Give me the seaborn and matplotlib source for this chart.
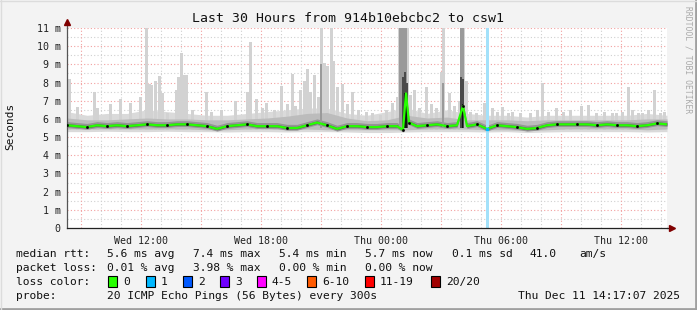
import numpy as np
import pandas as pd
import matplotlib
matplotlib.use("Agg")
import matplotlib.pyplot as plt
import seaborn as sns
from matplotlib.lines import Line2D
from matplotlib.patches import Rectangle

# ---------------- data (hours since start, Wed 08:17) ----------------
hours_base = [0, 1, 2, 3, 4, 5, 6, 7, 8, 9, 10, 11, 12, 13, 14, 15,
              16, 17, 18, 19, 20, 21, 22, 23, 24, 25, 26, 27, 28, 29, 30]
light_top = [6.4, 6.2, 6.3, 6.3, 6.5, 6.4, 6.3, 6.2, 6.2, 6.3, 6.4, 6.5, 6.6, 6.6, 6.3, 6.2,
             6.4, 6.6, 6.3, 6.5, 6.3, 6.2, 6.2, 6.1, 6.2, 6.2, 6.2, 6.2, 6.2, 6.3, 6.2]
light_low = [5.3, 5.3, 5.32, 5.3, 5.3, 5.32, 5.3, 5.3, 5.28, 5.3, 5.3, 5.28, 5.3, 5.3, 5.28, 5.25,
             5.25, 5.28, 5.3, 5.3, 5.3, 5.28, 5.3, 5.25, 5.28, 5.3, 5.3, 5.3, 5.3, 5.28, 5.3]
mid_top = [6.05, 5.95, 5.95, 6.0, 6.05, 6.0, 6.0, 5.95, 5.95, 6.0, 6.05, 6.15, 6.3, 6.35, 6.05, 5.9,
           5.95, 6.2, 6.05, 6.1, 5.95, 5.95, 5.95, 5.9, 5.95, 5.95, 5.95, 5.95, 5.95, 6.0, 6.0]
mid_low = [5.45, 5.45, 5.45, 5.45, 5.45, 5.45, 5.45, 5.4, 5.4, 5.45, 5.45, 5.4, 5.45, 5.4, 5.4, 5.4,
           5.4, 5.4, 5.45, 5.45, 5.45, 5.4, 5.4, 5.35, 5.4, 5.45, 5.45, 5.45, 5.45, 5.4, 5.45]

spike_t = [0.0, 0.1, 0.5, 1.35, 1.5, 2.15, 2.65, 3.15, 3.65, 3.95, 4.1, 4.2, 4.4, 4.6, 4.75,
           5.0, 5.45, 5.55, 5.7, 5.8, 5.95, 6.25, 6.95, 7.2, 7.7, 8.4, 9.0, 9.15, 9.45, 9.75,
           9.95, 10.35, 10.7, 11.0, 11.25, 11.4, 11.65, 11.85, 12.0, 12.15, 12.35, 12.55,
           12.7, 12.85, 13.0, 13.2, 13.3, 13.5, 13.75, 14.0, 14.25, 14.55, 14.95, 15.25,
           15.65, 15.95, 16.25, 16.5, 16.6, 16.7, 16.8, 16.9, 17.0, 17.15, 17.35, 17.6,
           17.95, 18.2, 18.45, 18.7, 18.8, 19.1, 19.35, 19.6, 19.7, 19.8, 19.95, 20.15,
           20.45, 20.85, 21.25, 21.5, 21.75, 22.05, 22.25, 22.65, 23.15, 23.5, 23.75,
           24.05, 24.45, 24.8, 25.15, 25.7, 26.05, 26.45, 26.85, 27.25, 27.45, 27.75,
           28.05, 28.25, 28.55, 28.75, 29.05, 29.35, 29.65, 29.85]
spike_v = [7.4, 8.2, 6.65, 7.5, 6.6, 6.8, 7.1, 6.9, 7.2, 11.0, 7.9, 7.85, 8.1, 8.35, 7.4,
           6.3, 7.6, 8.3, 9.6, 8.4, 8.4, 6.5, 7.5, 6.4, 6.5, 7.0, 7.5, 10.25, 7.1, 6.6,
           6.9, 6.5, 7.8, 6.8, 8.45, 6.7, 7.6, 8.1, 8.75, 7.5, 8.4, 7.2,
           11.0, 9.1, 8.9, 11.0, 9.2, 7.75, 7.9, 6.8, 7.5, 6.5, 6.4, 6.3,
           6.2, 6.5, 6.9, 7.2, 11.0, 11.0, 11.0, 11.0, 11.0, 7.3, 7.6, 6.6,
           7.75, 6.8, 6.6, 8.6, 11.0, 7.4, 6.7, 7.0, 11.0, 11.0, 8.1, 6.4,
           6.3, 6.9, 6.6, 6.4, 6.65, 6.3, 6.4, 6.3, 6.3, 6.5, 8.0,
           6.4, 6.6, 6.4, 6.5, 6.7, 6.75, 6.3, 6.4, 6.3, 6.3, 6.4,
           7.75, 6.5, 6.3, 6.3, 6.5, 7.6, 6.3, 6.4]

dark_t = [12.7, 16.65, 16.75, 16.85, 16.95, 18.8, 19.7, 19.8]
dark_v = [9.0, 11.0, 11.0, 11.0, 11.0, 8.0, 11.0, 11.0]
core_t = [16.8, 16.9, 16.98, 19.72, 19.8]
core_v = [8.3, 8.6, 8.0, 8.3, 8.2]
black_t = [16.88, 16.96, 19.78]
black_v = [7.4, 7.3, 6.8]

med_t = [0, 0.5, 1, 1.5, 2, 2.5, 3, 3.5, 4, 4.5, 5, 5.5, 6, 6.5, 7, 7.5, 8, 8.5, 9, 9.5,
         10, 10.5, 11, 11.5, 12, 12.5, 13, 13.5, 14, 14.5, 15, 15.5, 16, 16.5, 16.8, 16.95,
         17.1, 17.5, 18, 18.5, 19, 19.5, 19.8, 20.0, 20.5, 21, 21.5, 22, 22.5, 23, 23.5,
         24, 24.5, 25, 25.5, 26, 26.5, 27, 27.5, 28, 28.5, 29, 29.5, 30]
med_v = [5.65, 5.6, 5.55, 5.65, 5.6, 5.65, 5.6, 5.65, 5.7, 5.65, 5.65, 5.7, 5.7, 5.65, 5.6, 5.45,
         5.6, 5.65, 5.7, 5.6, 5.6, 5.6, 5.5, 5.5, 5.65, 5.8, 5.65, 5.45, 5.6, 5.6, 5.55, 5.55,
         5.6, 5.6, 5.4, 7.4, 5.8, 5.6, 5.65, 5.7, 5.6, 5.65, 6.7, 5.6, 5.7, 5.45, 5.65, 5.6,
         5.55, 5.45, 5.5, 5.65, 5.7, 5.7, 5.7, 5.7, 5.65, 5.7, 5.65, 5.65, 5.6, 5.65, 5.75, 5.7]

loss_t = [20.95, 21.08]

y_ticks = [0, 1, 2, 3, 4, 5, 6, 7, 8, 9, 10, 11]
y_labels = ['0', '1 m', '2 m', '3 m', '4 m', '5 m', '6 m', '7 m', '8 m', '9 m', '10 m', '11 m']
x_tick_hours = [3.72, 9.72, 15.72, 21.72, 27.72]
x_labels = ['Wed 12:00', 'Wed 18:00', 'Thu 00:00', 'Thu 06:00', 'Thu 12:00']
first_full_hour = 0.72

title = 'Last 30 Hours from 914b10ebcbc2 to csw1'
loss_names = ['0', '1', '2', '3', '4-5', '6-10', '11-19', '20/20']
loss_colors = ['#26ff00', '#00b8ff', '#0059ff', '#7000ff', '#ff00ff', '#ff5a00', '#ff0000', '#a10000']

# ---------------- drawing ----------------
sns.set_style("white")
plt.rcParams['font.family'] = ['DejaVu Sans Mono', 'DejaVu Sans']

W, H = 697, 310
fig = plt.figure(figsize=(W / 100, H / 100), dpi=100, facecolor='#f3f3f3')


def fx(x):
    return x / W


def fy(y):
    return 1 - y / H


L, R, T, B = 67, 667, 28, 228
ax = fig.add_axes([fx(L), fy(B), (R - L) / W, (B - T) / H])
ax.set_facecolor('white')
ax.set_xlim(0, 30)
ax.set_ylim(0, 11)

# grid
for v in np.arange(0.5, 11.01, 0.5):
    major = abs(v - round(v)) < 1e-6
    ax.axhline(v, color='#f2a0a0' if major else '#d0d0d0', lw=0.8,
               ls=(0, (1, 2)), zorder=0.5)
hrs = np.arange(first_full_hour, 30, 1.0)
for i, h in enumerate(hrs):
    ax.axvline(h, color='#f2a0a0' if i % 3 == 0 else '#d0d0d0', lw=0.8,
               ls=(0, (1, 2)), zorder=0.5)

# smoke
ax.fill_between(hours_base, light_low, light_top, color='#dadada', lw=0, zorder=1)
ax.bar(spike_t, np.array(spike_v) - 5.4, bottom=5.4, width=0.15, color='#d2d2d2',
       lw=0, zorder=1.1)
ax.fill_between(hours_base, mid_low, mid_top, color='#bcbcbc', lw=0, zorder=1.2)
mv = np.array(med_v)
ax.fill_between(med_t, mv - 0.12, mv + 0.2, color='#959595', lw=0, zorder=1.3)
ax.fill_between(med_t, mv - 0.05, mv + 0.09, color='#5f5f5f', lw=0, zorder=1.4)
ax.bar(dark_t, np.array(dark_v) - 5.5, bottom=5.5, width=0.1, color='#9a9a9a', lw=0, zorder=1.5)
ax.bar(core_t, np.array(core_v) - 5.5, bottom=5.5, width=0.09, color='#4a4a4a', lw=0, zorder=1.6)
ax.bar(black_t, np.array(black_v) - 5.5, bottom=5.5, width=0.08, color='#111111', lw=0, zorder=1.7)

# loss bar
ax.axvspan(loss_t[0], loss_t[1], color='#a3e1fa', lw=0, zorder=1.8)

# median
df = pd.DataFrame({'t': med_t, 'v': med_v})
sns.lineplot(data=df, x='t', y='v', ax=ax, color='#26ff00', lw=1.6, zorder=3)
ax.plot(med_t, med_v, ls='none', marker='s', ms=0.9, color='black', zorder=3.1,
        markevery=2)
ax.plot([21.0], [5.45], ls='none', marker='s', ms=1.8, color='#00b8ff', zorder=3.2)

# axes styling
for s in ['top', 'right']:
    ax.spines[s].set_visible(False)
ax.spines['left'].set_color('#555555')
ax.spines['bottom'].set_color('#222222')
ax.spines['left'].set_linewidth(0.9)
ax.spines['bottom'].set_linewidth(0.9)
ax.set_yticks(y_ticks)
ax.set_yticklabels(y_labels, fontsize=7.2, color='#222222')
ax.set_xticks(x_tick_hours)
ax.set_xticklabels(x_labels, fontsize=7.2, color='#222222')
ax.set_xticks(hrs[::3], minor=True)
ax.tick_params(axis='y', length=3, width=0.7, color='#555555', pad=3, direction='inout')
ax.tick_params(axis='x', which='major', length=2, width=0.7, color='#f08080', pad=4)
ax.tick_params(axis='x', which='minor', length=2, width=0.7, color='#f08080')
ax.set_xlabel('')
ax.set_ylabel('')

# axis extensions and arrows
ax.add_line(Line2D([0, 0], [1.0, 1.03], transform=ax.transAxes, color='#555555',
                   lw=0.9, clip_on=False))
ax.add_line(Line2D([1.0, 1.008], [0, 0], transform=ax.transAxes, color='#222222',
                   lw=0.9, clip_on=False))
ax.plot([0], [1.03], transform=ax.transAxes, marker='^', ms=4.5, color='#800000',
        clip_on=False, zorder=5)
ax.plot([1.008], [0], transform=ax.transAxes, marker='>', ms=4.5, color='#800000',
        clip_on=False, zorder=5)

# texts
fig.text(fx(348.5), fy(18), title, ha='center', va='center', fontsize=9.5, color='#111111')
fig.text(fx(10), fy(126), 'Seconds', rotation=90, ha='center', va='center', fontsize=8,
         color='#111111')
fig.text(fx(688), fy(60), 'RRDTOOL / TOBI OETIKER', rotation=270, ha='center', va='center',
         fontsize=5.8, color='#aaaaaa')

fs = 8.1
rows = [
    (254, [(16, 'median rtt:'), (107, '5.6 ms avg'), (193, '7.4 ms max'), (279, '5.4 ms min'),
           (365, '5.7 ms now'), (452, '0.1 ms sd'), (530, '41.0'), (579, 'am/s')]),
    (268, [(16, 'packet loss:'), (107, '0.01 % avg'), (193, '3.98 % max'),
           (279, '0.00 % min'), (365, '0.00 % now')]),
    (296, [(16, 'probe:'), (107, '20 ICMP Echo Pings (56 Bytes) every 300s')]),
]
for y, items in rows:
    for x, s in items:
        fig.text(fx(x), fy(y), s, ha='left', va='center', fontsize=fs, color='#111111')
fig.text(fx(680), fy(296), 'Thu Dec 11 14:17:07 2025', ha='right', va='center', fontsize=fs,
         color='#111111')

fig.text(fx(16), fy(282), 'loss color:', ha='left', va='center', fontsize=fs, color='#111111')
box_x = [108, 146, 183, 220, 257, 307, 365, 431]
for bx, name, col in zip(box_x, loss_names, loss_colors):
    fig.add_artist(Rectangle((fx(bx), fy(287)), 9 / W, 11 / H, transform=fig.transFigure,
                             facecolor=col, edgecolor='black', lw=0.8))
    fig.text(fx(bx + 15), fy(282), name, ha='left', va='center', fontsize=fs, color='#111111')

# frame
fig.add_artist(Line2D([fx(695.5), fx(695.5)], [0, 1], transform=fig.transFigure,
                      color='#a0a0a0', lw=2))
fig.add_artist(Line2D([0, 1], [fy(308.5), fy(308.5)], transform=fig.transFigure,
                      color='#a0a0a0', lw=2))
fig.add_artist(Line2D([fx(0.5), fx(0.5)], [0, 1], transform=fig.transFigure,
                      color='#dcdcdc', lw=1))
fig.add_artist(Line2D([0, 1], [fy(0.5), fy(0.5)], transform=fig.transFigure,
                      color='#dcdcdc', lw=1))

fig.savefig('out.png', dpi=100, facecolor=fig.get_facecolor())
